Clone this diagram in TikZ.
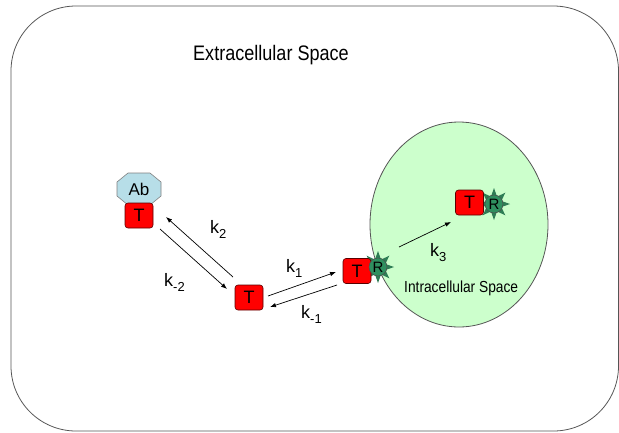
\documentclass[tikz,border=0pt]{standalone}
\usepackage{fontspec}
\setmainfont[FakeStretch=0.86]{Liberation Sans}
\newfontfamily\kfont{Liberation Sans}
\usetikzlibrary{shapes.geometric,arrows.meta}
\definecolor{cellgreen}{HTML}{CCFFCC}
\definecolor{abblue}{HTML}{B7DEE8}
\definecolor{tred}{HTML}{FF0000}
\definecolor{rgreen}{HTML}{2F8F5F}
\definecolor{spikegreen}{HTML}{2E7D55}
\definecolor{edgegrey}{HTML}{555555}
\newcommand\ksub[1]{\raisebox{-5pt}{\fontsize{13}{13}\selectfont #1}}
\tikzset{
  outerline/.style={draw=edgegrey, line width=0.8pt, rounded corners=65pt},
  cellshape/.style={ellipse, fill=cellgreen, draw=edgegrey, line width=0.8pt, inner sep=0pt, minimum width=178pt, minimum height=205pt},
  abshape/.style={fill=abblue, draw=gray, line width=0.6pt},
  tbox/.style={rectangle, rounded corners=3pt, fill=tred, draw=red!35!black, line width=0.6pt, minimum width=28pt, minimum height=25pt, inner sep=0pt, font=\kfont\fontsize{18}{18}\selectfont},
  rball/.style={circle, fill=rgreen, draw=black!70, line width=0.5pt, minimum size=18pt, inner sep=0pt, font=\kfont\fontsize{15}{15}\selectfont},
  spikes/.style={star, star points=8, star point ratio=2, minimum size=32pt, inner sep=0pt, fill=spikegreen},
  rxn/.style={draw=black, line width=0.7pt, -{Latex[length=6pt,width=4.5pt]}},
  klabel/.style={anchor=base west, inner sep=0pt, font=\kfont\fontsize{18}{18}\selectfont},
  space/.style={anchor=base west, inner sep=0pt},
}
\begin{document}
\begin{tikzpicture}[x=1pt,y=-1pt]
\useasboundingbox (0,0) rectangle (619,432);
% outer extracellular boundary
\draw[outerline] (11,6) rectangle (618.5,431);
\node[space, font=\fontsize{21}{21}\selectfont] (extra) at (193,60.5) {Extracellular Space};
% cell
\node[cellshape] (cell) at (459,224.5) {};
\node[space, font=\fontsize{16}{16}\selectfont] (intra) at (404,292.3) {Intracellular Space};
% antibody
\coordinate (abc) at (139,189);
\draw[abshape] ([shift={(-11,-16)}]abc) -- ([shift={(11,-16)}]abc) -- ([shift={(22,-7)}]abc) -- ([shift={(22,7)}]abc) -- ([shift={(11,16)}]abc) -- ([shift={(-11,16)}]abc) -- ([shift={(-22,7)}]abc) -- ([shift={(-22,-7)}]abc) -- cycle;
\node[inner sep=0pt, font=\kfont\fontsize{17}{17}\selectfont] (ab) at (abc) {Ab};
% T nodes
\node[tbox] (t1) at (139,215.5) {T};
\node[tbox] (t2) at (249,297.5) {T};
\node[spikes] (s3) at (378,267) {};
\node[tbox] (t3) at (357,271) {T};
\node[rball] (r3) at (378,267) {R};
\node[spikes] (s4) at (494,204) {};
\node[tbox] (t4) at (469.5,202.5) {T};
\node[rball] (r4) at (494,204) {R};
% arrow end points
\coordinate (k2t) at (233,277);  \coordinate (k2h) at (166,217);
\coordinate (km2t) at (160,229); \coordinate (km2h) at (227,289);
\coordinate (k1t) at (268,296);  \coordinate (k1h) at (336,272);
\coordinate (km1t) at (337,285); \coordinate (km1h) at (270,307);
\coordinate (k3t) at (399,247);  \coordinate (k3h) at (451,222);
\draw[rxn] (k2t) -- (k2h);
\draw[rxn] (km2t) -- (km2h);
\draw[rxn] (k1t) -- (k1h);
\draw[rxn] (km1t) -- (km1h);
\draw[rxn] (k3t) -- (k3h);
% rate labels
\node[klabel] (lk2) at (210,233) {k\ksub{2}};
\node[klabel] (lkm2) at (164,286) {k\ksub{-2}};
\node[klabel] (lk1) at (286,272) {k\ksub{1}};
\node[klabel] (lkm1) at (301,318) {k\ksub{-1}};
\node[klabel] (lk3) at (430,256) {k\ksub{3}};
\end{tikzpicture}
\end{document}
